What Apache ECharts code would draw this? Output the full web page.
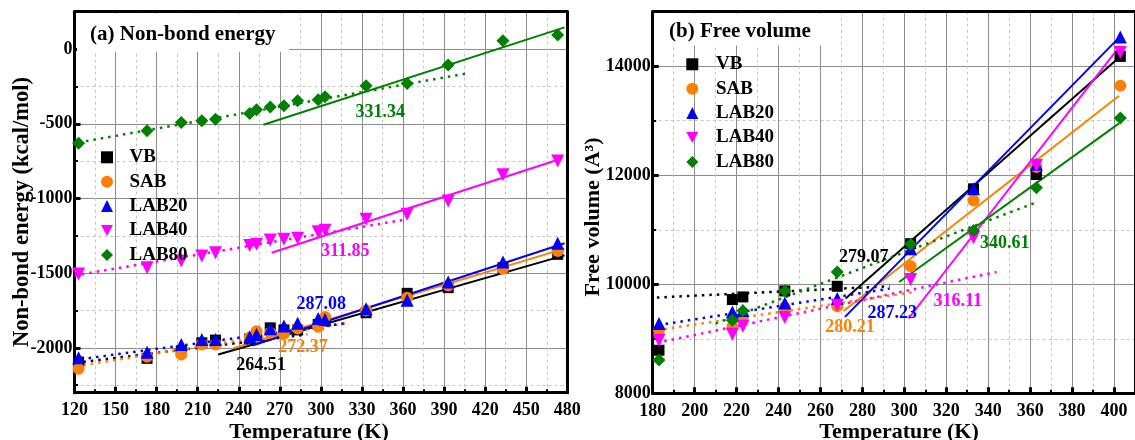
<!DOCTYPE html>
<html>
<head>
<meta charset="utf-8">
<script src="https://cdn.jsdelivr.net/npm/echarts@6/dist/echarts.min.js"></script>
<style>
  html, body { margin: 0; padding: 0; background: #fff; }
  #chart { width: 1135px; height: 440px; }
</style>
</head>
<body>
<div id="chart"></div>
<script>
const names = ['VB', 'SAB', 'LAB20', 'LAB40', 'LAB80']
const colors = ['#000000', '#ff8000', '#0000ff', '#ff00ff', '#008000']
const symbols = ['rect', 'circle', 'triangle', 'triangle', 'diamond']
const rotates = [0, 0, 0, 180, 0]
const sizes = [11, 12, 13, 13, 13]
const legendIcons = ['rect', 'circle', 'triangle', 'path://M0,0L10,0L5,9Z', 'diamond']

// (a) non-bond energy, kcal/mol
const tempA = [123, 173, 198, 213, 223, 248, 253, 263, 273, 283, 298, 303, 333, 363, 393, 433, 473]
const vbA = [-2095, -2070, -2020, -1966, -1948, -1940, -1910, -1866, -1880, -1880, -1843, -1820, -1765, -1635, -1597, -1463, -1374]
const sabA = [-2140, -2060, -2044, -1977, -1977, -1930, -1888, -1899, -1905, -1870, -1859, -1794, -1750, -1664, -1582, -1470, -1352]
const lab20A = [-2066, -2029, -1977, -1944, -1944, -1926, -1910, -1872, -1854, -1836, -1803, -1810, -1738, -1682, -1559, -1425, -1300]
const lab40A = [-1505, -1463, -1418, -1385, -1363, -1314, -1307, -1278, -1273, -1267, -1222, -1213, -1139, -1106, -1017, -842, -749]
const lab80A = [-630, -547, -491, -480, -469, -431, -407, -387, -380, -346, -340, -320, -246, -230, -107, 56, 94]
// fitted lines below / above the transition, [[T, E], [T, E]]
const lowFitA = [[[121, -2100], [290, -1910]], [[121, -2123], [318, -1836]], [[114, -2089], [320, -1832]], [[120, -1515], [363, -1139]], [[123, -625], [408, -161]]]
const highFitA = [[[225, -2044], [478, -1381]], [[236, -2002], [478, -1336]], [[250, -1984], [478, -1300]], [[264, -1363], [476, -733]], [[258, -507], [478, 145]]]
const tgA = ['264.51', '272.37', '287.08', '311.85', '331.34']
const tgPosA = [[256.3, -2118], [287, -1997], [300.2, -1709], [317.7, -1354], [343.3, -422]]
const xMajorA = [120, 150, 180, 210, 240, 270, 300, 330, 360, 390, 420, 450, 480]
const xMinorA = [135, 165, 195, 225, 255, 285, 315, 345, 375, 405, 435, 465]
const yMajorA = [-2000, -1500, -1000, -500, 0]
const yMinorA = [-2250, -1750, -1250, -750, -250]

// (b) free volume, A^3
const tempB = [183, 218, 223, 243, 268, 303, 333, 363, 403]
const vbB = [8790, 9720, 9768, 9878, 9963, 10745, 11751, 12013, 14180]
const sabB = [9159, 9219, 9390, 9573, 9597, 10329, 11537, 12150, 13641]
const lab20B = [9281, 9493, 9520, 9658, 9738, 10653, 11751, 12200, 14538]
const lab40B = [8975, 9085, 9231, 9390, 9616, 10086, 10855, 12178, 14250]
const lab80B = [8609, 9341, 9512, 9878, 10225, 10732, 10988, 11769, 13050]
const lowFitB = [[[182, 9757], [293, 9963]], [[182, 9159], [305, 9859]], [[182.6, 9250], [293, 9921]], [[182, 8926], [344, 10225]], [[210, 9281], [362, 11488]]]
const highFitB = [[[272, 9738], [402.4, 14159]], [[271, 9511], [402.4, 13458]], [[271.7, 9402], [402.4, 14525]], [[302, 9372], [401, 14282]], [[297.5, 10042], [402.4, 12951]]]
const tgB = ['279.07', '280.21', '287.23', '316.11', '340.61']
const tgPosB = [[280.6, 10500], [274.1, 9219], [294.2, 9475], [325.5, 9694], [347.9, 10756]]
const xMajorB = [180, 200, 220, 240, 260, 280, 300, 320, 340, 360, 380, 400]
const xMinorB = [190, 210, 230, 250, 270, 290, 310, 330, 350, 370, 390, 410]
const yMajorB = [8000, 10000, 12000, 14000]
const yMinorB = [9000, 11000, 13000]

const font = 'Liberation Serif'
const bold = { fontFamily: font, fontWeight: 'bold', color: '#000' }

// five axes per direction: major grid, minor grid, main (line, ticks, labels), minor ticks, opposite spine
function axisSet(dim, grid, min, max, major, minor) {
  const pos = dim === 'x' ? ['bottom', 'top'] : ['left', 'right']
  const base = { type: 'value', gridIndex: grid, min: min, max: max, position: pos[0] }
  const noLine = { show: false, onZero: false }
  return [
    Object.assign({}, base, {
      z: 0, axisLine: noLine, axisLabel: { show: false },
      axisTick: { show: false, customValues: major },
      splitLine: { show: true, lineStyle: { color: '#8c8c8c', width: 1 } }
    }),
    Object.assign({}, base, {
      z: 0, axisLine: noLine, axisLabel: { show: false },
      axisTick: { show: false, customValues: minor },
      splitLine: { show: true, lineStyle: { color: '#c6c6c6', width: 1, type: [3, 3] } }
    }),
    Object.assign({}, base, {
      z: 1,
      axisLine: { show: true, onZero: false, lineStyle: { color: '#000', width: 3 } },
      axisTick: { show: true, inside: true, length: 6, customValues: major, lineStyle: { color: '#000', width: 3 } },
      axisLabel: Object.assign({ show: true, customValues: major, fontSize: 18, margin: dim === 'x' ? 9 : 2, formatter: v => String(v) }, bold),
      splitLine: { show: false }
    }),
    Object.assign({}, base, {
      z: 1, axisLine: noLine, axisLabel: { show: false },
      axisTick: { show: true, inside: true, length: 3.5, customValues: minor, lineStyle: { color: '#000', width: 2 } },
      splitLine: { show: false }
    }),
    Object.assign({}, base, {
      z: 1, position: pos[1],
      axisLine: { show: true, onZero: false, lineStyle: { color: '#000', width: 3 } },
      axisTick: { show: false }, axisLabel: { show: false }, splitLine: { show: false }
    })
  ]
}

function panelSeries(grid, temps, sets, lowFit, highFit, tg, tgPos) {
  const out = []
  sets.forEach(function (vals, i) {
    out.push({
      name: names[i], type: 'scatter', xAxisIndex: grid * 5, yAxisIndex: grid * 5,
      symbol: symbols[i], symbolRotate: rotates[i], symbolSize: sizes[i],
      itemStyle: { color: colors[i], opacity: 1 }, z: 3,
      data: temps.map((t, k) => [t, vals[k]])
    })
    out.push({
      name: names[i] + ' low fit', type: 'line', xAxisIndex: grid * 5, yAxisIndex: grid * 5,
      showSymbol: false, symbol: 'none', clip: false, z: 2,
      lineStyle: { color: colors[i], width: 2.5, type: [2.5, 5], opacity: 1 },
      data: lowFit[i]
    })
    out.push({
      name: names[i] + ' high fit', type: 'line', xAxisIndex: grid * 5, yAxisIndex: grid * 5,
      showSymbol: false, symbol: 'none', z: 2,
      lineStyle: { color: colors[i], width: 2, opacity: 1 },
      data: highFit[i]
    })
  })
  out.push({
    name: 'Tg ' + grid, type: 'scatter', xAxisIndex: grid * 5, yAxisIndex: grid * 5,
    symbolSize: 0.1, itemStyle: { color: 'rgba(0,0,0,0)', opacity: 1 }, z: 4,
    label: { show: true, position: 'inside', formatter: '{b}', fontSize: 18, fontFamily: font, fontWeight: 'bold', opacity: 1 },
    data: tg.map((s, i) => ({ name: s, value: tgPos[i], label: { color: colors[i] } }))
  })
  return out
}

const legendBase = {
  data: names.map((n, i) => ({ name: n, icon: legendIcons[i] })),
  orient: 'vertical', itemWidth: 12, itemHeight: 12, itemGap: 4.4, selectedMode: false,
  itemStyle: { opacity: 1 }
}

const chart = echarts.init(document.getElementById('chart'))
chart.setOption({
  animation: false,
  backgroundColor: '#fff',
  grid: [
    { left: 74.5, right: 567.7, top: 11.7, bottom: 47.3 },
    { left: 652.7, right: -9.9, top: 11.7, bottom: 46.7 }
  ],
  xAxis: axisSet('x', 0, 120, 480, xMajorA, xMinorA).concat(axisSet('x', 1, 180, 410, xMajorB, xMinorB)),
  yAxis: axisSet('y', 0, -2300, 250, yMajorA, yMinorA).concat(axisSet('y', 1, 8000, 15000, yMajorB, yMinorB)),
  legend: [
    Object.assign({ left: 96, top: 142.3, textStyle: Object.assign({ fontSize: 19, lineHeight: 20, padding: [0, 0, 0, 11.5] }, bold) }, legendBase),
    Object.assign({ left: 681.3, top: 49.3, textStyle: Object.assign({ fontSize: 19, lineHeight: 20, padding: [0, 0, 0, 12.7] }, bold) }, legendBase)
  ],
  graphic: [
    { type: 'rect', z: 5, shape: { x: 77, y: 13.5, width: 212, height: 38.5 }, style: { fill: '#fff' } },
    { type: 'text', z: 6, x: 90, y: 35, style: { text: '(a) Non-bond energy', font: 'bold 21px "Liberation Serif"', fill: '#000', textAlign: 'left', textVerticalAlign: 'middle' } },
    { type: 'rect', z: 5, shape: { x: 655, y: 13.5, width: 180, height: 32 }, style: { fill: '#fff' } },
    { type: 'text', z: 6, x: 669, y: 31.7, style: { text: '(b) Free volume', font: 'bold 21px "Liberation Serif"', fill: '#000', textAlign: 'left', textVerticalAlign: 'middle' } },
    { type: 'text', z: 6, x: 22, y: 212, rotation: Math.PI / 2, style: { text: 'Non-bond energy (kcal/mol)', font: 'bold 22.5px "Liberation Serif"', fill: '#000', textAlign: 'center', textVerticalAlign: 'middle' } },
    { type: 'text', z: 6, x: 593, y: 217, rotation: Math.PI / 2, style: { text: 'Free volume (A³)', font: 'bold 22px "Liberation Serif"', fill: '#000', textAlign: 'center', textVerticalAlign: 'middle' } },
    { type: 'text', z: 6, x: 309, y: 432, style: { text: 'Temperature (K)', font: 'bold 22px "Liberation Serif"', fill: '#000', textAlign: 'center', textVerticalAlign: 'middle' } },
    { type: 'text', z: 6, x: 899, y: 432, style: { text: 'Temperature (K)', font: 'bold 22px "Liberation Serif"', fill: '#000', textAlign: 'center', textVerticalAlign: 'middle' } }
  ],
  series: panelSeries(0, tempA, [vbA, sabA, lab20A, lab40A, lab80A], lowFitA, highFitA, tgA, tgPosA)
    .concat(panelSeries(1, tempB, [vbB, sabB, lab20B, lab40B, lab80B], lowFitB, highFitB, tgB, tgPosB))
})
</script>
</body>
</html>
